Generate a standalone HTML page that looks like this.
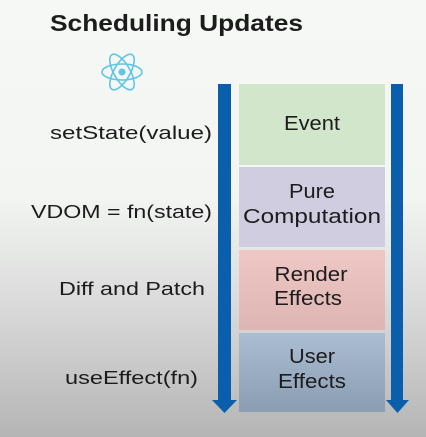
<!DOCTYPE html>
<html><head><meta charset="utf-8"><style>
html,body{margin:0;padding:0;}
body{width:426px;height:437px;overflow:hidden;background:linear-gradient(#f6f8f6 0%,#f3f5f3 45%,#d9dad9 70%,#b4b5b4 100%);}
svg{display:block}
text{font-family:"Liberation Sans",sans-serif;fill:#1c1c1c;}
</style></head><body>
<svg width="426" height="437" viewBox="0 0 426 437">
<defs>
<linearGradient id="u" x1="0" y1="0" x2="0" y2="1"><stop offset="0" stop-color="#aabdd3"/><stop offset="1" stop-color="#8a9db3"/></linearGradient>
<linearGradient id="r" x1="0" y1="0" x2="0" y2="1"><stop offset="0" stop-color="#efc7c4"/><stop offset="1" stop-color="#ddb5b3"/></linearGradient>
</defs>
<text x="50" y="31" font-size="23" font-weight="bold" fill="#111" textLength="253" lengthAdjust="spacingAndGlyphs">Scheduling Updates</text>
<g transform="translate(122,72)" fill="none" stroke="#5fc6e4" stroke-width="1.6">
<ellipse rx="20" ry="8"/><ellipse rx="20" ry="8" transform="rotate(60)"/><ellipse rx="20" ry="8" transform="rotate(-60)"/>
<circle r="3.5" fill="#5fc6e4" stroke="none"/></g>
<rect x="218" y="84" width="13" height="318" fill="#0b5eab"/>
<polygon points="212,400 237,400 224.5,413" fill="#0b5eab"/>
<rect x="391" y="84" width="12" height="318" fill="#0b5eab"/>
<polygon points="386,400 409,400 397.5,413" fill="#0b5eab"/>
<rect x="239" y="84" width="146" height="81" fill="#d2e6cb"/>
<rect x="239" y="167" width="146" height="80" fill="#d0cde1"/>
<rect x="239" y="250" width="146" height="80" fill="url(#r)"/>
<rect x="239" y="333" width="146" height="79" fill="url(#u)"/>
<g font-size="20" text-anchor="middle" lengthAdjust="spacingAndGlyphs">
<text x="312" y="130" textLength="56" lengthAdjust="spacingAndGlyphs">Event</text>
<text x="312" y="198" textLength="46" lengthAdjust="spacingAndGlyphs">Pure</text>
<text x="312" y="223" textLength="138" lengthAdjust="spacingAndGlyphs">Computation</text>
<text x="311" y="281" textLength="73" lengthAdjust="spacingAndGlyphs">Render</text>
<text x="308" y="305" textLength="68" lengthAdjust="spacingAndGlyphs">Effects</text>
<text x="312" y="363" textLength="46" lengthAdjust="spacingAndGlyphs">User</text>
<text x="312" y="388" textLength="68" lengthAdjust="spacingAndGlyphs">Effects</text>
</g>
<g font-size="18" text-anchor="end" fill="#222">
<text x="212" y="139" textLength="162" lengthAdjust="spacingAndGlyphs">setState(value)</text>
<text x="212" y="218" textLength="181" lengthAdjust="spacingAndGlyphs">VDOM = fn(state)</text>
<text x="205" y="295" textLength="146" lengthAdjust="spacingAndGlyphs">Diff and Patch</text>
<text x="198" y="384" textLength="133" lengthAdjust="spacingAndGlyphs">useEffect(fn)</text>
</g>
</svg>
</body></html>
